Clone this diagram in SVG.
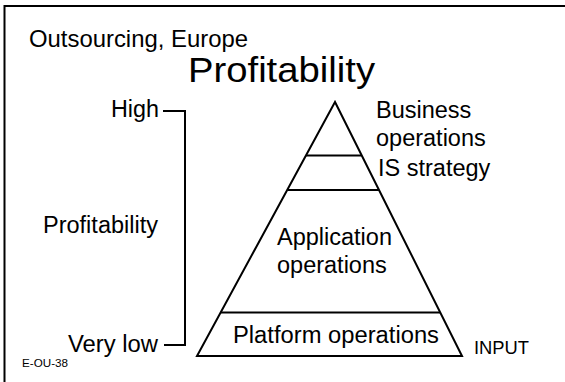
<svg xmlns="http://www.w3.org/2000/svg" width="565" height="382" viewBox="0 0 565 382">
<style>
text{font-family:"Liberation Sans",Arial,Helvetica,sans-serif;fill:#000}
.ln{stroke:#000;stroke-width:2;fill:none}
.t23{font-size:23.5px}
</style>
<rect width="565" height="382" fill="#fff"/>
<g id="frame"><path class="ln" d="M4.5,382 V6 H565"/></g>
<g id="titles">
<text x="29" y="47" font-size="24" textLength="219" lengthAdjust="spacingAndGlyphs">Outsourcing, Europe</text>
<text x="188" y="82" font-size="35" textLength="187" lengthAdjust="spacingAndGlyphs">Profitability</text>
</g>
<g id="scale">
<text class="t23" x="111" y="117" textLength="48" lengthAdjust="spacingAndGlyphs">High</text>
<text class="t23" x="43" y="233" textLength="115" lengthAdjust="spacingAndGlyphs">Profitability</text>
<text class="t23" x="68" y="352" textLength="90" lengthAdjust="spacingAndGlyphs">Very low</text>
<text x="22" y="367" font-size="11.5" textLength="46" lengthAdjust="spacingAndGlyphs">E-OU-38</text>
</g>
<g id="connectors">
<path class="ln" d="M163,111 H185 V345 H164"/>
</g>
<g id="pyramid">
<path class="ln" d="M335,102 L197,356 H462 Z"/>
<line class="ln" x1="306" y1="155.5" x2="361.5" y2="155.5"/>
<line class="ln" x1="288" y1="190" x2="379" y2="190"/>
<line class="ln" x1="221" y1="312.5" x2="440" y2="312.5"/>
</g>
<g id="business"><text class="t23" x="376" y="118">Business</text><text class="t23" x="376" y="146">operations</text></g>
<g id="is-strategy"><text class="t23" x="378" y="176">IS strategy</text></g>
<g id="application"><text class="t23" x="277" y="245">Application</text><text class="t23" x="277" y="273">operations</text></g>
<g id="platform"><text class="t23" x="233" y="343" textLength="206" lengthAdjust="spacingAndGlyphs">Platform operations</text></g>
<g id="input"><text x="474" y="354" font-size="18" textLength="55" lengthAdjust="spacingAndGlyphs">INPUT</text></g>
</svg>
